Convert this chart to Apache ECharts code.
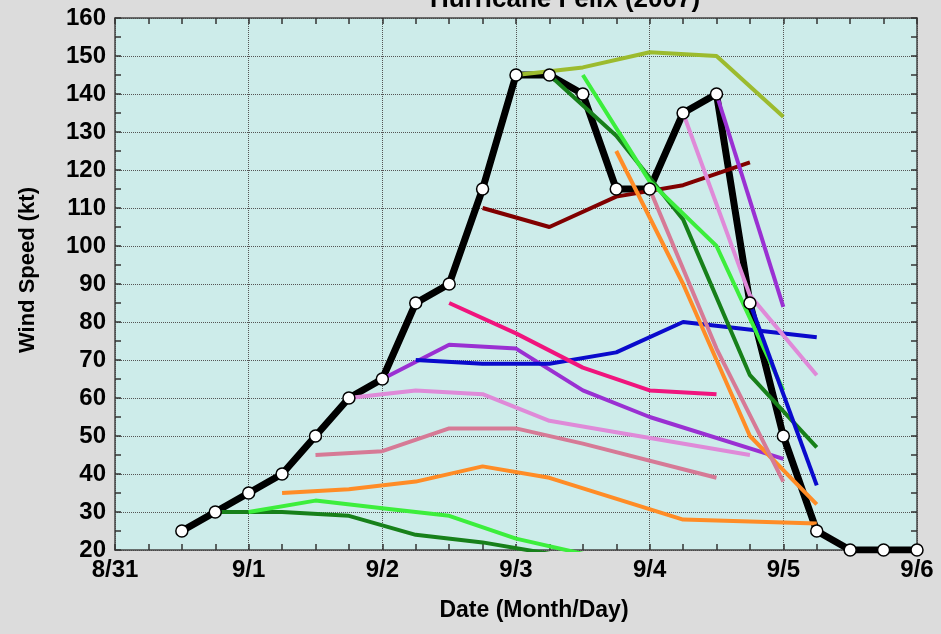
<!DOCTYPE html>
<html>
<head>
<meta charset="utf-8">
<title>Hurricane Felix (2007)</title>
<script src="https://cdn.jsdelivr.net/npm/echarts@6/dist/echarts.min.js"></script>
<style>
  html, body { margin: 0; padding: 0; background: #dcdcdc; }
  #chart { width: 941px; height: 634px; }
</style>
</head>
<body>
<div id="chart"></div>
<script>
// days counted from 8/31 00Z, wind in kt
var dateLabels = ['8/31', '9/1', '9/2', '9/3', '9/4', '9/5', '9/6'];

// observed (best track)
var obsDays = [0.5, 0.75, 1.0, 1.25, 1.5, 1.75, 2.0, 2.25, 2.5, 2.75, 3.0, 3.25, 3.5, 3.75, 4.0, 4.25, 4.5, 4.75, 5.0, 5.25, 5.5, 5.75, 6.0];
var obsWind = [25, 30, 35, 40, 50, 60, 65, 85, 90, 115, 145, 145, 140, 115, 115, 135, 140, 85, 50, 25, 20, 20, 20];

// forecasts [day, kt]
var fc0831_18 = [[0.75, 30], [1.25, 30], [1.75, 29], [2.25, 24], [2.75, 22], [3.75, 16]];
var fc0901_00 = [[1.0, 30], [1.5, 33], [2.0, 31], [2.5, 29], [3.0, 23], [4.0, 15]];
var fc0901_06 = [[1.25, 35], [1.75, 36], [2.25, 38], [2.75, 42], [3.25, 39], [4.25, 28], [5.25, 27]];
var fc0901_12 = [[1.5, 45], [2.0, 46], [2.5, 52], [3.0, 52], [3.5, 48], [4.5, 39]];
var fc0901_18 = [[1.75, 60], [2.25, 62], [2.75, 61], [3.25, 54], [3.75, 51], [4.75, 45]];
var fc0902_00 = [[2.0, 65], [2.5, 74], [3.0, 73], [3.5, 62], [4.0, 55], [5.0, 44]];
var fc0902_06 = [[2.25, 70], [2.75, 69], [3.25, 69], [3.75, 72], [4.25, 80], [5.25, 76]];
var fc0902_12 = [[2.5, 85], [3.0, 77], [3.5, 68], [4.0, 62], [4.5, 61]];
var fc0902_18 = [[2.75, 110], [3.25, 105], [3.75, 113], [4.25, 116], [4.75, 122]];
var fc0903_00 = [[3.0, 145], [3.5, 147], [4.0, 151], [4.5, 150], [5.0, 134]];
var fc0903_06 = [[3.25, 145], [3.75, 129], [4.25, 107], [4.75, 66], [5.25, 47]];
var fc0903_12 = [[3.5, 145], [4.0, 117], [4.5, 100], [5.0, 62]];
var fc0903_18 = [[3.75, 125], [4.25, 90], [4.75, 50], [5.25, 32]];
var fc0904_00 = [[4.0, 115], [4.5, 73], [5.0, 38]];
var fc0904_06 = [[4.25, 135], [4.75, 87], [5.25, 66]];
var fc0904_12 = [[4.5, 140], [5.0, 84]];
var fc0904_18 = [[4.75, 85], [5.25, 37]];

var forecasts = [
  [fc0831_18, '#17801a'],
  [fc0901_00, '#3cee3c'],
  [fc0901_06, '#ff8c26'],
  [fc0901_12, '#d67a96'],
  [fc0901_18, '#df8ad8'],
  [fc0902_00, '#9a30d2'],
  [fc0902_06, '#0a0acc'],
  [fc0902_12, '#f0147d'],
  [fc0902_18, '#800000'],
  [fc0903_00, '#9cbb2e'],
  [fc0903_06, '#17801a'],
  [fc0903_12, '#3cee3c'],
  [fc0903_18, '#ff8c26'],
  [fc0904_00, '#d67a96'],
  [fc0904_06, '#df8ad8'],
  [fc0904_12, '#9a30d2'],
  [fc0904_18, '#0a0acc']
];

var fontFamily = 'Arial, "Liberation Sans", sans-serif';

var obsData = obsDays.map(function (d, i) { return [d, obsWind[i]]; });

var series = [];
series.push({
  name: 'Observed',
  type: 'line',
  data: obsData,
  symbol: 'none',
  z: 2,
  lineStyle: { color: '#000', width: 7, join: 'round', cap: 'round' }
});
forecasts.forEach(function (f, i) {
  series.push({
    name: 'Forecast ' + i,
    type: 'line',
    data: f[0],
    symbol: 'none',
    z: 3,
    lineStyle: { color: f[1], width: 4 }
  });
});
// circles on top
series.push({
  name: 'Observed points',
  type: 'scatter',
  data: obsData,
  symbol: 'circle',
  symbolSize: 12,
  clip: false,
  z: 5,
  itemStyle: { color: '#fff', opacity: 1, borderColor: '#000', borderWidth: 1.5 }
});

function xAxisCfg(pos, labels) {
  return {
    type: 'value',
    position: pos,
    min: 0,
    max: 6,
    interval: 1,
    axisLine: { show: true, onZero: false, lineStyle: { color: '#444', width: 1.5 } },
    axisTick: { show: true, inside: true, length: 6, lineStyle: { color: '#333', width: 1.5 } },
    minorTick: { show: true, splitNumber: 4, length: 6, lineStyle: { color: '#333', width: 1.5 } },
    splitLine: { show: labels, lineStyle: { color: '#555', type: 'dotted', width: 1 } },
    axisLabel: {
      show: labels,
      margin: 8,
      color: '#000',
      fontSize: 24,
      fontWeight: 'bold',
      fontFamily: fontFamily,
      formatter: function (v) { return dateLabels[Math.round(v)]; }
    }
  };
}

function yAxisCfg(pos, labels) {
  return {
    type: 'value',
    position: pos,
    min: 20,
    max: 160,
    interval: 10,
    axisLine: { show: true, onZero: false, lineStyle: { color: '#444', width: 1.5 } },
    axisTick: { show: true, inside: true, length: 6, lineStyle: { color: '#333', width: 1.5 } },
    minorTick: { show: true, splitNumber: 2, length: 6, lineStyle: { color: '#333', width: 1.5 } },
    splitLine: { show: labels, lineStyle: { color: '#555', type: 'dotted', width: 1 } },
    axisLabel: {
      show: labels,
      margin: 9,
      color: '#000',
      fontSize: 24,
      fontWeight: 'bold',
      fontFamily: fontFamily
    }
  };
}

var chart = echarts.init(document.getElementById('chart'), null, { renderer: 'canvas' });
var option = {
  backgroundColor: '#dcdcdc',
  animation: false,
  grid: {
    left: 115,
    right: 24,
    top: 18,
    bottom: 84,
    show: true,
    backgroundColor: '#cdecea',
    borderColor: '#444',
    borderWidth: 0
  },
  xAxis: [xAxisCfg('bottom', true), xAxisCfg('top', false)],
  yAxis: [yAxisCfg('left', true), yAxisCfg('right', false)],
  graphic: [
    {
      type: 'text',
      x: 565,
      y: 0,
      style: {
        text: 'Hurricane Felix (2007)',
        fill: '#000',
        font: 'bold 26px ' + fontFamily,
        align: 'center',
        verticalAlign: 'middle'
      }
    },
    {
      type: 'text',
      x: 534,
      y: 611,
      style: {
        text: 'Date (Month/Day)',
        fill: '#000',
        font: 'bold 23px ' + fontFamily,
        align: 'center',
        verticalAlign: 'middle'
      }
    },
    {
      type: 'text',
      x: 28,
      y: 270,
      rotation: Math.PI / 2,
      style: {
        text: 'Wind Speed (kt)',
        fill: '#000',
        font: 'bold 22px ' + fontFamily,
        align: 'center',
        verticalAlign: 'middle'
      }
    }
  ],
  series: series
};
chart.setOption(option);
</script>
</body>
</html>
